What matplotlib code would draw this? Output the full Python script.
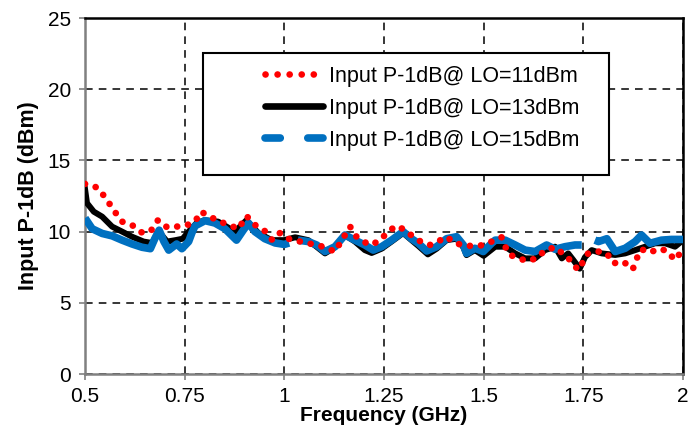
import matplotlib
matplotlib.use("Agg")
import matplotlib.pyplot as plt
import numpy as np
from matplotlib.lines import Line2D
from matplotlib.patches import Rectangle

plt.rcParams['font.family'] = ['Liberation Sans', 'DejaVu Sans']

# LO = 11 dBm (red dotted)
freq_lo11 = [0.500, 0.530, 0.551, 0.572, 0.593, 0.618, 0.641, 0.664, 0.683, 0.706,
             0.729, 0.751, 0.776, 0.791, 0.813, 0.839, 0.861, 0.885, 0.905, 0.931,
             0.950, 0.970, 0.989, 1.010, 1.040, 1.060, 1.090, 1.127, 1.165, 1.181,
             1.213, 1.236, 1.257, 1.279, 1.300, 1.325, 1.349, 1.365, 1.385, 1.407,
             1.428, 1.460, 1.490, 1.520, 1.545, 1.558, 1.566, 1.608, 1.633, 1.654,
             1.680, 1.717, 1.737, 1.762, 1.788, 1.809, 1.825, 1.850, 1.874, 1.884,
             1.896, 1.917, 1.938, 1.959, 1.980, 2.000]
p1db_lo11 = [13.35, 13.1, 12.4, 11.5, 10.7, 10.46, 9.95, 10.0, 10.8, 10.3,
             10.35, 10.4, 10.7, 11.4, 11.05, 10.7, 10.46, 10.2, 11.1, 10.35,
             10.07, 9.4, 9.9, 9.5, 9.3, 9.18, 9.0, 8.6, 10.35, 9.64,
             9.06, 9.3, 9.88, 10.4, 10.16, 9.6, 9.18, 9.06, 9.3, 9.64,
             9.18, 9.0, 9.0, 9.3, 9.6, 8.7, 8.36, 7.93, 8.12, 8.7,
             8.9, 8.0, 7.3, 8.47, 8.6, 8.47, 7.77, 7.9, 7.35, 8.12,
             8.76, 8.52, 8.8, 8.66, 8.0, 8.76]

# LO = 13 dBm (black solid)
freq_lo13 = [0.500, 0.505, 0.522, 0.543, 0.568, 0.593, 0.618, 0.647, 0.668, 0.685,
             0.706, 0.727, 0.745, 0.760, 0.780, 0.800, 0.834, 0.876, 0.905, 0.935,
             0.968, 1.000, 1.027, 1.060, 1.102, 1.127, 1.152, 1.177, 1.202, 1.219,
             1.244, 1.269, 1.298, 1.319, 1.336, 1.360, 1.382, 1.407, 1.432, 1.449,
             1.457, 1.478, 1.500, 1.529, 1.554, 1.579, 1.604, 1.629, 1.654, 1.679,
             1.696, 1.712, 1.725, 1.741, 1.754, 1.771, 1.796, 1.830, 1.855, 1.880,
             1.905, 1.930, 1.955, 1.980, 2.000]
p1db_lo13 = [13.0, 12.0, 11.4, 11.05, 10.35, 10.0, 9.64, 9.3, 9.2, 10.0,
             9.3, 9.4, 9.5, 10.0, 10.6, 10.8, 10.7, 10.0, 10.8, 9.9,
             9.4, 9.4, 9.6, 9.4, 8.47, 8.9, 9.76, 9.3, 8.7, 8.5,
             8.8, 9.3, 9.9, 9.4, 9.0, 8.4, 8.8, 9.4, 9.5, 8.9,
             8.35, 8.7, 8.3, 8.94, 8.94, 8.47, 8.12, 8.12, 8.7, 8.94,
             8.12, 8.47, 8.0, 7.4, 8.2, 8.7, 8.47, 8.36, 8.47, 8.7,
             8.94, 9.18, 9.18, 8.94, 9.4]

# LO = 15 dBm (blue, nan = missing point)
freq_lo15 = [0.500, 0.518, 0.543, 0.568, 0.593, 0.618, 0.643, 0.664, 0.675, 0.686,
             0.698, 0.710, 0.730, 0.743, 0.760, 0.768, 0.776, 0.801, 0.826, 0.851,
             0.880, 0.897, 0.910, 0.926, 0.951, 0.977, 1.000, 1.012, 1.022, 1.034,
             1.060, 1.081, 1.102, 1.127, 1.152, 1.177, 1.202, 1.223, 1.244, 1.269,
             1.298, 1.319, 1.336, 1.357, 1.382, 1.407, 1.432, 1.449, 1.457, 1.478,
             1.499, 1.520, 1.529, 1.554, 1.579, 1.604, 1.629, 1.658, 1.679, 1.704,
             1.729, 1.746, 1.762, 1.779, 1.788, 1.809, 1.830, 1.855, 1.880, 1.896,
             1.917, 1.946, 1.971, 2.000]
p1db_lo15 = [10.95, 10.2, 9.87, 9.7, 9.4, 9.13, 8.9, 8.8, 9.5, 10.1,
             9.3, 8.7, 9.13, 8.8, 9.3, 9.9, 10.4, 10.77, 10.6, 10.2,
             9.4, 10.1, 10.6, 10.0, 9.5, 9.2, 9.1, 9.2, np.nan, 9.4,
             9.3, 9.06, 8.6, 8.94, 9.76, 9.4, 9.06, 8.7, 8.94, 9.4,
             10.0, 9.5, 9.18, 8.64, 8.94, 9.5, 9.64, 9.06, 8.47, 8.83,
             8.6, 9.18, 9.4, 9.4, 9.06, 8.7, 8.6, 9.06, 8.76, 8.94,
             9.06, 9.06, np.nan, 9.4, 9.3, 9.5, 8.6, 8.83, 9.3, 9.76,
             9.18, 9.4, 9.45, 9.45]

labels = ["Input P-1dB@ LO=11dBm", "Input P-1dB@ LO=13dBm", "Input P-1dB@ LO=15dBm"]
x_ticks = [0.5, 0.75, 1, 1.25, 1.5, 1.75, 2]
x_ticklabels = ["0.5", "0.75", "1", "1.25", "1.5", "1.75", "2"]
y_ticks = [0, 5, 10, 15, 20, 25]

red = "#ff0000"
black = "#000000"
blue = "#0070c0"

fig = plt.figure(figsize=(7, 4.3), dpi=100)
ax = fig.add_axes([85 / 700, 1 - 374 / 430, 598 / 700, 356 / 430])

ax.plot(freq_lo13, p1db_lo13, color=black, lw=4.3, solid_joinstyle='round', zorder=3)
ax.plot(freq_lo15, p1db_lo15, color=blue, lw=5.5, solid_joinstyle='round',
        solid_capstyle='butt', zorder=4)
ax.plot(freq_lo11, p1db_lo11, color=red, lw=4.8, linestyle=(0, (0.01, 1.65)),
        dash_capstyle='round', zorder=5)

ax.set_xlim(0.5, 2)
ax.set_ylim(0, 25)
ax.set_xticks(x_ticks)
ax.set_xticklabels(x_ticklabels)
ax.set_yticks(y_ticks)
ax.tick_params(axis='both', labelsize=15, colors='#808080', labelcolor='black',
               direction='out', length=4, width=1.2)
ax.tick_params(axis='x', pad=5)
ax.tick_params(axis='y', pad=6)

ax.grid(True, color='black', linestyle=(0, (5, 4)), linewidth=1.1)
ax.set_axisbelow(True)

for side in ['left', 'bottom']:
    ax.spines[side].set_color('#808080')
    ax.spines[side].set_linewidth(1.8)
for side in ['top', 'right']:
    ax.spines[side].set_color('black')
    ax.spines[side].set_linewidth(1.8)

ax.set_xlabel("Frequency (GHz)", fontsize=15, fontweight='bold', labelpad=0.5)
ax.set_ylabel("Input P-1dB (dBm)", fontsize=15.5, fontweight='bold', labelpad=6)

# legend box drawn separately, legend entries without frame
box = Rectangle((118 / 598, 199 / 356), 406 / 598, 122 / 356, transform=ax.transAxes,
                facecolor='white', edgecolor='black', linewidth=1.5, zorder=6)
ax.add_patch(box)

handles = [
    Line2D([], [], color=red, lw=4.8, linestyle=(0, (0.01, 1.8)), dash_capstyle='round'),
    Line2D([], [], color=black, lw=4.8, solid_capstyle='round'),
    Line2D([], [], color=blue, lw=5.5, linestyle=(0, (2.0, 3.6)), dash_capstyle='round'),
]
leg = ax.legend(handles, labels, loc='upper left', bbox_to_anchor=(180 / 598, 308 / 356),
                frameon=False, fontsize=15.5, handlelength=2.7, handletextpad=0.25,
                labelspacing=0.5, borderpad=0, borderaxespad=0)
leg.set_zorder(7)

fig.savefig("out.png", dpi=100)
